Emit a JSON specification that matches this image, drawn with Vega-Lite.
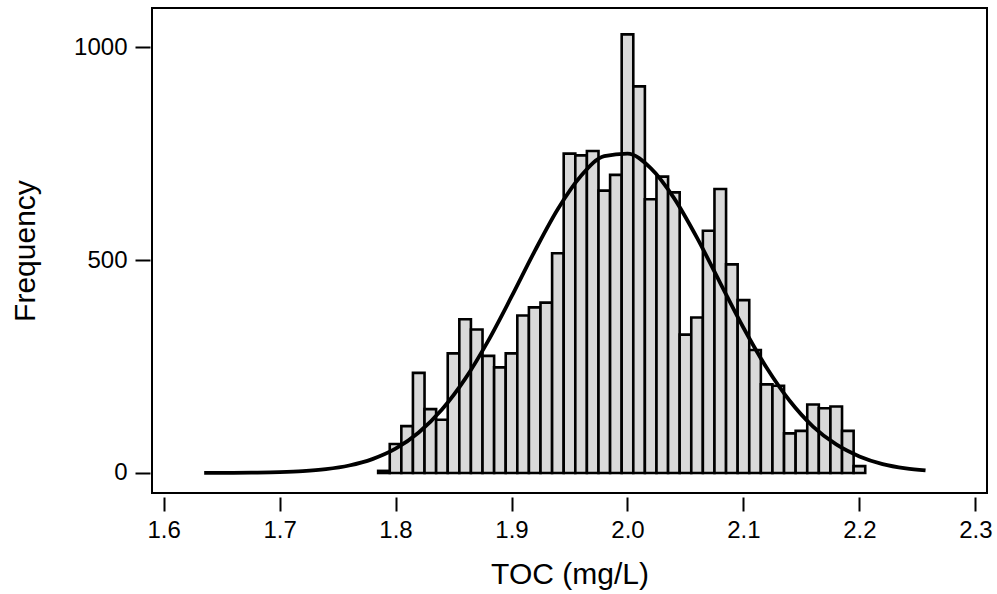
{
  "$schema": "https://vega.github.io/schema/vega-lite/v6.json",
  "autosize": "none",
  "width": 835,
  "height": 485,
  "padding": {"left": 152, "top": 8, "right": 10, "bottom": 101},
  "background": "white",
  "datasets": {
    "bars": [
      {"lo": 1.785, "hi": 1.795, "n": 5},
      {"lo": 1.795, "hi": 1.805, "n": 68},
      {"lo": 1.805, "hi": 1.815, "n": 110},
      {"lo": 1.815, "hi": 1.825, "n": 235},
      {"lo": 1.825, "hi": 1.835, "n": 150},
      {"lo": 1.835, "hi": 1.845, "n": 125},
      {"lo": 1.845, "hi": 1.855, "n": 281},
      {"lo": 1.855, "hi": 1.865, "n": 361},
      {"lo": 1.865, "hi": 1.875, "n": 337},
      {"lo": 1.875, "hi": 1.885, "n": 275},
      {"lo": 1.885, "hi": 1.895, "n": 248},
      {"lo": 1.895, "hi": 1.905, "n": 281},
      {"lo": 1.905, "hi": 1.915, "n": 370},
      {"lo": 1.915, "hi": 1.925, "n": 389},
      {"lo": 1.925, "hi": 1.935, "n": 400},
      {"lo": 1.935, "hi": 1.945, "n": 516},
      {"lo": 1.945, "hi": 1.955, "n": 750},
      {"lo": 1.955, "hi": 1.965, "n": 746},
      {"lo": 1.965, "hi": 1.975, "n": 756},
      {"lo": 1.975, "hi": 1.985, "n": 663},
      {"lo": 1.985, "hi": 1.995, "n": 700},
      {"lo": 1.995, "hi": 2.005, "n": 1030},
      {"lo": 2.005, "hi": 2.015, "n": 908},
      {"lo": 2.015, "hi": 2.025, "n": 643},
      {"lo": 2.025, "hi": 2.035, "n": 696},
      {"lo": 2.035, "hi": 2.045, "n": 659},
      {"lo": 2.045, "hi": 2.055, "n": 325},
      {"lo": 2.055, "hi": 2.065, "n": 365},
      {"lo": 2.065, "hi": 2.075, "n": 569},
      {"lo": 2.075, "hi": 2.085, "n": 667},
      {"lo": 2.085, "hi": 2.095, "n": 490},
      {"lo": 2.095, "hi": 2.105, "n": 406},
      {"lo": 2.105, "hi": 2.115, "n": 289},
      {"lo": 2.115, "hi": 2.125, "n": 208},
      {"lo": 2.125, "hi": 2.135, "n": 205},
      {"lo": 2.135, "hi": 2.145, "n": 93},
      {"lo": 2.145, "hi": 2.155, "n": 99},
      {"lo": 2.155, "hi": 2.165, "n": 161},
      {"lo": 2.165, "hi": 2.175, "n": 152},
      {"lo": 2.175, "hi": 2.185, "n": 156},
      {"lo": 2.185, "hi": 2.195, "n": 99},
      {"lo": 2.195, "hi": 2.205, "n": 16}
    ],
    "curve": [
      {"x": 1.635, "y": 0.1},
      {"x": 1.66, "y": 0.35},
      {"x": 1.68, "y": 0.9},
      {"x": 1.70, "y": 2},
      {"x": 1.72, "y": 4.3},
      {"x": 1.74, "y": 9},
      {"x": 1.76, "y": 17.6},
      {"x": 1.78, "y": 32.6},
      {"x": 1.80, "y": 57},
      {"x": 1.82, "y": 95},
      {"x": 1.84, "y": 149},
      {"x": 1.86, "y": 221},
      {"x": 1.88, "y": 311},
      {"x": 1.90, "y": 414},
      {"x": 1.92, "y": 521},
      {"x": 1.94, "y": 620},
      {"x": 1.96, "y": 698},
      {"x": 1.98, "y": 744},
      {"x": 2.00, "y": 750},
      {"x": 2.02, "y": 716},
      {"x": 2.04, "y": 646},
      {"x": 2.06, "y": 552},
      {"x": 2.08, "y": 446},
      {"x": 2.10, "y": 341},
      {"x": 2.12, "y": 247},
      {"x": 2.14, "y": 169},
      {"x": 2.16, "y": 109},
      {"x": 2.18, "y": 67},
      {"x": 2.20, "y": 39},
      {"x": 2.22, "y": 21},
      {"x": 2.24, "y": 11},
      {"x": 2.257, "y": 6}
    ]
  },
  "layer": [
    {
      "data": {"name": "bars"},
      "mark": {"type": "rect", "fill": "#d9d9d9", "stroke": "black", "strokeWidth": 2.6},
      "encoding": {
        "x": {"field": "lo", "type": "quantitative", "title": "TOC (mg/L)",
              "scale": {"domain": [1.59, 2.31], "nice": false, "zero": false},
              "axis": {"values": [1.6, 1.7, 1.8, 1.9, 2.0, 2.1, 2.2, 2.3], "format": ".1f", "offset": 4, "tickSize": 14, "labelPadding": 7, "titlePadding": 17}},
        "x2": {"field": "hi"},
        "y": {"field": "n", "type": "quantitative", "title": "Frequency",
              "scale": {"domain": [-47, 1092], "nice": false, "zero": false},
              "axis": {"values": [0, 500, 1000], "format": "d", "offset": 2, "tickSize": 15, "labelPadding": 8, "titlePadding": 33}},
        "y2": {"datum": 0}
      }
    },
    {
      "data": {"name": "curve"},
      "mark": {"type": "line", "color": "black", "strokeWidth": 3.8, "interpolate": "monotone", "clip": true},
      "encoding": {
        "x": {"field": "x", "type": "quantitative"},
        "y": {"field": "y", "type": "quantitative"}
      }
    }
  ],
  "config": {
    "view": {"stroke": "black", "strokeWidth": 2},
    "font": "Liberation Sans",
    "axis": {"grid": false, "domain": false, "tickColor": "black", "tickWidth": 2, "labelColor": "black", "titleColor": "black", "labelFont": "Liberation Sans", "titleFont": "Liberation Sans", "titleFontWeight": "normal", "labelFontSize": 24, "titleFontSize": 30}
  }
}
